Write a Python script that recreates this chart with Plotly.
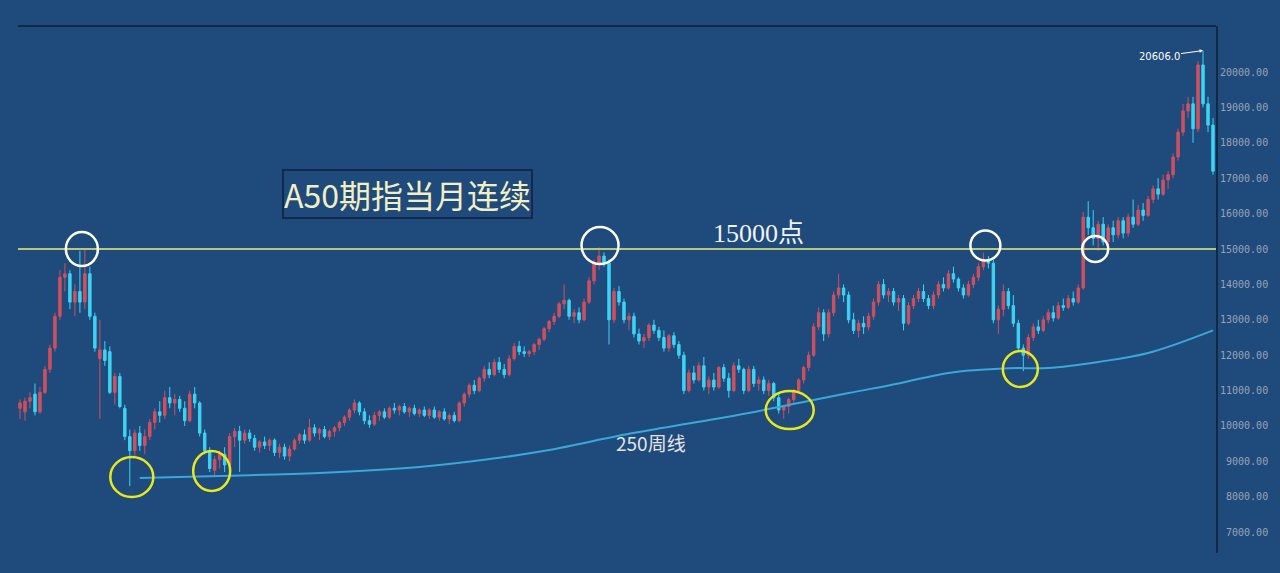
import plotly.graph_objects as go

# ---------------- data (weekly candles) ----------------
weeks = list(range(240))

opens = [
    10500,10400,10700,10900,10400,10950,11600,12200,13100,14200,
    14300,13500,13800,13500,14300,13100,11900,12150,12100,10950,
    11400,10500,9700,9300,9800,9450,9700,10100,10400,10300,
    10800,10650,10750,10500,10150,10900,10650,9800,9300,8750,
    9050,9200,8900,9700,9850,9600,9800,9650,9400,9550,
    9450,9600,9250,9400,9150,9350,9600,9750,9600,9950,
    9800,9900,9700,9850,9950,10100,10250,10450,10650,10400,
    10150,10050,10300,10400,10250,10500,10450,10550,10400,10500,
    10350,10450,10300,10450,10250,10400,10200,10300,10150,10650,
    10900,11150,11000,11350,11600,11450,11800,11600,11450,11900,
    12250,12100,12050,12100,12300,12450,12750,12950,13100,13450,
    13550,13100,13200,13000,13500,14100,14600,14800,14600,13000,
    13800,13500,13000,13100,12600,12400,12500,12850,12700,12500,
    12200,12550,12300,12000,11000,11500,11300,11700,11100,11300,
    11100,11650,11350,11000,11700,11600,11000,11600,11200,11300,
    11000,11200,10800,10450,10550,10750,11000,11300,11650,12000,
    12800,13200,12600,13200,13700,13900,13700,13000,12700,12900,
    12800,13100,13500,14000,13700,13800,13500,13600,12900,13400,
    13600,13800,13600,13400,13700,14000,13900,14300,14150,13900,
    13700,14000,14200,14500,14700,14600,13000,13300,13800,13400,
    12900,12200,12000,12500,12800,12700,13000,13200,13050,13400,
    13350,13600,13500,13900,15900,15600,15300,15700,15200,15600,
    15400,15800,15450,15900,15700,16100,15950,16400,16700,16550,
    16950,17100,17600,18300,18900,19100,18400,20200,19100,18500,
]
highs = [
    10750,10800,10950,11200,11100,11700,12300,13200,14400,14600,
    14400,14000,14950,15000,14500,13200,13000,12400,12250,11500,
    11500,10600,9900,9900,10000,9900,10200,10500,10700,11000,
    11100,10900,10850,10700,11000,11100,10700,9900,9400,9150,
    9300,9400,9800,9950,10000,9900,9900,9750,9600,9700,
    9650,9650,9500,9500,9450,9650,9800,9900,10200,10050,
    9950,10000,9900,10000,10150,10300,10500,10750,10700,10500,
    10300,10400,10450,10500,10550,10650,10600,10650,10550,10600,
    10500,10550,10500,10550,10450,10500,10350,10400,10700,10950,
    11200,11300,11400,11700,11800,11900,11950,11750,12000,12350,
    12400,12250,12150,12350,12500,12800,13000,13200,13500,14000,
    13600,13300,13350,13600,14200,14700,15050,14900,14700,13900,
    13950,13600,13200,13200,12750,12600,12900,13000,12800,12700,
    12600,12650,12400,12100,11600,11700,11800,11950,11400,11500,
    11700,11750,11500,11800,11900,11650,11700,11700,11400,11400,
    11300,11250,10900,10600,10800,11050,11350,11700,12100,12900,
    13350,13300,13300,13800,14300,14000,13800,13200,13000,13100,
    13200,13600,14100,14150,13900,13900,13700,13700,13500,13700,
    13900,14000,13700,13800,14100,14200,14400,14500,14200,14000,
    14100,14300,14600,14900,14800,14700,13400,14000,13900,13700,
    13000,12300,12600,12900,13000,13100,13300,13400,13500,13600,
    13700,13800,14000,16050,16350,16100,15800,15900,15700,15800,
    15900,15900,16000,16400,16250,16300,16500,16800,17000,17100,
    17200,17700,18400,19100,19300,19300,20300,20606,19300,18700,
]
lows = [
    10200,10150,10500,10300,10350,10900,11500,12100,13000,13800,
    13300,13100,13200,13300,13000,12100,10200,11700,10900,10600,
    10500,9600,8300,9100,9300,9200,9600,9900,10100,10200,
    10500,10300,10400,10000,10100,10500,9700,9200,8700,8600,
    8800,8700,8850,9400,8700,9500,9550,9300,9250,9350,
    9300,9150,9100,9050,9000,9300,9500,9500,9550,9700,
    9600,9650,9600,9700,9850,10000,10150,10350,10300,10050,
    9950,10000,10150,10200,10200,10350,10300,10350,10250,10300,
    10250,10250,10200,10200,10150,10150,10050,10100,10100,10550,
    10800,10900,10950,11250,11350,11400,11500,11350,11400,11850,
    12000,11950,11950,12000,12150,12400,12650,12850,13050,13300,
    13000,12900,12900,12950,13450,14000,14400,14500,12300,12900,
    13400,12900,12700,12500,12300,12200,12400,12600,12400,12100,
    12100,12200,11900,10900,10950,11200,11250,11000,10900,11000,
    11050,11250,10800,10950,11500,10900,10950,11100,11000,10900,
    10850,10700,10350,10200,10350,10650,10900,11200,11550,11950,
    12700,12400,12500,13100,13600,13500,12900,12600,12500,12600,
    12700,13000,13400,13600,13500,13400,13250,12700,12850,13300,
    13500,13500,13300,13300,13600,13800,13850,14050,13800,13600,
    13650,13900,14100,14400,14450,12900,12600,13100,13300,12800,
    12100,11550,11900,12400,12600,12650,12900,12950,13000,13250,
    13300,13400,13450,13850,15400,15100,14950,15100,15000,15200,
    15300,15300,15350,15600,15650,15800,15900,16300,16400,16500,
    16700,17000,17500,18200,18700,18000,18300,19000,18300,17100,
]
closes = [
    10650,10700,10800,10400,10950,11600,12200,13100,14200,14300,
    13500,13800,13500,14300,13100,12200,12150,11850,10950,11400,
    10550,9700,9300,9800,9450,9700,10100,10400,10300,10800,
    10650,10750,10500,10150,10900,10650,9800,9300,8800,9050,
    9200,8900,9700,9850,9600,9800,9650,9400,9550,9450,
    9600,9250,9400,9150,9350,9600,9750,9600,9950,9800,
    9900,9700,9850,9950,10100,10250,10450,10650,10400,10150,
    10050,10300,10400,10250,10500,10450,10550,10400,10500,10350,
    10450,10300,10450,10250,10400,10200,10300,10150,10650,10900,
    11150,11000,11350,11600,11450,11800,11600,11450,11900,12250,
    12100,12050,12100,12300,12450,12750,12950,13100,13450,13550,
    13100,13200,13000,13500,14100,14600,14800,14600,13000,13800,
    13500,13000,13100,12600,12400,12500,12850,12700,12500,12200,
    12550,12300,12000,11000,11500,11300,11700,11100,11300,11100,
    11650,11350,11000,11700,11600,11000,11600,11200,11300,11000,
    11200,10800,10450,10550,10750,11000,11300,11650,12000,12800,
    13200,12600,13200,13700,13900,13700,13000,12700,12900,12800,
    13100,13500,14000,13700,13800,13500,13600,12900,13400,13600,
    13800,13600,13400,13700,14000,13900,14300,14150,13900,13700,
    14000,14200,14500,14700,14600,13000,13300,13800,13400,12900,
    12200,12000,12500,12800,12700,13000,13200,13050,13400,13350,
    13600,13500,13900,15900,15600,15300,15700,15200,15600,15400,
    15800,15450,15900,15700,16100,15950,16400,16700,16550,16950,
    17100,17600,18300,18900,19100,18400,20200,19100,18500,17200,
]

# 250-week moving average, read at points along the curve
ma_weeks = [24, 40, 60, 80, 96, 106, 122, 136, 146, 156, 166, 176, 186, 198, 206, 216, 226, 239]
ma_values = [8530, 8590, 8670, 8840, 9100, 9320, 9780, 10120, 10370, 10650,
             10930, 11200, 11500, 11630, 11640, 11810, 12060, 12700]

level = 15000
tick_values = [7000, 8000, 9000, 10000, 11000, 12000, 13000, 14000,
               15000, 16000, 17000, 18000, 19000, 20000]
tick_labels = [f"{v:.2f}".rjust(8, "\u00a0") for v in tick_values]

# marked touches
white_weeks = [12.4, 116.2, 193.4, 215.4]
white_prices = [15000, 15100, 15100, 15000]
yellow_weeks = [22.4, 38.4, 154.2, 200.4]
yellow_prices = [8560, 8730, 10450, 11610]

peak_week = 237
peak_value = 20606

# ---------------- styling ----------------
BG = "#1e4a7c"
UP = "#d0505e"
DOWN = "#3ed3f2"
AXIS = "#142844"

fig = go.Figure()

fig.add_trace(go.Candlestick(
    x=weeks, open=opens, high=highs, low=lows, close=closes,
    increasing=dict(line=dict(color=UP, width=1), fillcolor=UP),
    decreasing=dict(line=dict(color=DOWN, width=1), fillcolor=DOWN),
    hoverinfo="skip",
))

fig.add_trace(go.Scatter(
    x=ma_weeks, y=ma_values, mode="lines",
    line=dict(color="#3aa8d8", width=2, shape="spline", smoothing=1.0),
    hoverinfo="skip",
))

shapes = [
    dict(type="line", xref="paper", yref="y", x0=0, x1=1, y0=level, y1=level,
         line=dict(color="#b9c77a", width=2)),
    dict(type="line", xref="paper", yref="paper", x0=0, x1=1, y0=1, y1=1,
         line=dict(color=AXIS, width=2)),
]
white_sizes = [(32, 34), (37, 37), (30, 30), (26, 26)]
for wx, py, (w, h) in zip(white_weeks, white_prices, white_sizes):
    shapes.append(dict(type="circle", xref="x", yref="y",
                       xsizemode="pixel", ysizemode="pixel",
                       xanchor=wx, yanchor=py,
                       x0=-w / 2, x1=w / 2, y0=-h / 2, y1=h / 2,
                       line=dict(color="#ffffff", width=2.5)))
yellow_sizes = [(43, 40), (37, 40), (48, 38), (35, 36)]
for wx, py, (w, h) in zip(yellow_weeks, yellow_prices, yellow_sizes):
    shapes.append(dict(type="circle", xref="x", yref="y",
                       xsizemode="pixel", ysizemode="pixel",
                       xanchor=wx, yanchor=py,
                       x0=-w / 2, x1=w / 2, y0=-h / 2, y1=h / 2,
                       line=dict(color="#e8e81e", width=2.5)))

annotations = [
    dict(text="A50期指当月连续", x=77.6, y=16554, xref="x", yref="y",
         showarrow=False,
         font=dict(family="Noto Sans CJK SC", size=32, color="#f3efc2"),
         bordercolor="#13284a", borderwidth=2, borderpad=0),
    dict(text="15000点", x=148, y=15440, xref="x", yref="y", showarrow=False,
         font=dict(family="Liberation Serif, Noto Sans CJK SC", size=26, color="#f2f2f2")),
    dict(text="250周线", x=126.4, y=9520, xref="x", yref="y", showarrow=False,
         font=dict(family="Noto Sans CJK SC", size=19, color="#e4e4e4")),
    dict(text=f"{peak_value:.1f}", x=peak_week, y=peak_value, xref="x", yref="y",
         showarrow=True, ax=-44, ay=6, arrowhead=2, arrowsize=0.7, arrowwidth=1,
         arrowcolor="#ffffff",
         font=dict(family="DejaVu Sans", size=10, color="#ffffff")),
]

fig.update_layout(
    width=1280, height=573,
    margin=dict(l=18, r=64, t=26, b=20),
    paper_bgcolor=BG, plot_bgcolor=BG,
    showlegend=False,
    xaxis=dict(visible=False, range=[-0.4, 239.6],
               rangeslider=dict(visible=False), showgrid=False, zeroline=False),
    yaxis=dict(side="right", range=[6412, 21300],
               tickvals=tick_values, ticktext=tick_labels,
               tickfont=dict(family="DejaVu Sans Mono", size=10, color="#9aa3b3"),
               showgrid=False, zeroline=False, showline=True,
               linecolor=AXIS, linewidth=2, ticks=""),
    shapes=shapes,
    annotations=annotations,
)

fig.write_html(
    "out.html",
    config={"displayModeBar": False},
    post_script="document.body.style.margin='0';document.body.style.background='" + BG + "';",
)
